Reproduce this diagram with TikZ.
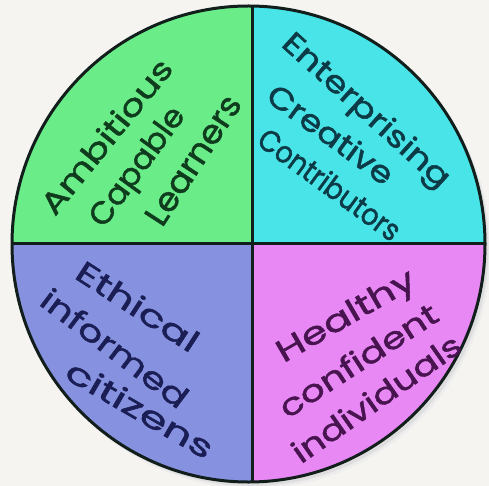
\documentclass[tikz,border=0pt]{standalone}
\usepackage{fontspec}
\setmainfont{Poppins}
\newfontfamily\hand{Poppins}[FakeBold=1.4]
\definecolor{bgc}{RGB}{245,244,240}
\definecolor{qgreen}{RGB}{106,236,136}
\definecolor{qcyan}{RGB}{72,228,232}
\definecolor{qblue}{RGB}{134,146,224}
\definecolor{qpink}{RGB}{232,136,244}
\definecolor{tgreen}{RGB}{16,60,30}
\definecolor{tcyan}{RGB}{12,58,70}
\definecolor{tblue}{RGB}{26,30,84}
\definecolor{tpink}{RGB}{72,20,80}
\definecolor{rim}{RGB}{18,30,28}
\newcommand{\hw}[2]{\resizebox{#1pt}{23pt}{#2}}
\tikzset{
  lab/.style={inner sep=0pt, font=\hand\fontsize{30}{30}\selectfont},
  rimline/.style={draw=rim, line width=3pt},
}
\begin{document}
\begin{tikzpicture}[x=1pt,y=-1pt]
\fill[bgc] (0,0) rectangle (489,486);
\useasboundingbox (0,0) rectangle (489,486);
% shadow
\fill[black!7] (253.5,250) ellipse [x radius=237, y radius=238.5];
\fill[black!13] (252,248) ellipse [x radius=236.5, y radius=238];
\begin{scope}
  \clip (248.5,244) ellipse [x radius=236.5, y radius=238];
  \fill[qgreen] (0,0) rectangle (252,243);
  \fill[qcyan] (252,0) rectangle (489,243);
  \fill[qblue] (0,243) rectangle (252,486);
  \fill[qpink] (252,243) rectangle (489,486);
\end{scope}
\coordinate (top) at (252,6.5);
\coordinate (bot) at (252,481.5);
\coordinate (lft) at (12,243);
\coordinate (rgt) at (485,243);
\draw[rimline] (top) -- (bot);
\draw[rimline] (lft) -- (rgt);
\draw[rimline] (248.5,244) ellipse [x radius=236.5, y radius=238];
% green
\node[lab, text=tgreen, rotate=51] (amb) at (106,136) {\hw{190}{Ambitious}};
\node[lab, text=tgreen, rotate=54] (cap) at (139,168) {\hw{140}{Capable}};
\node[lab, text=tgreen, rotate=57] (lea) at (193,160) {\hw{148}{Learners}};
% cyan
\node[lab, text=tcyan, rotate=-42] (ent) at (365,112) {\hw{215}{Enterprising}};
\node[lab, text=tcyan, rotate=-36] (cre) at (331,134) {\hw{148}{Creative}};
\node[lab, text=tcyan, rotate=-36] (con) at (330,184) {\hw{168}{Contributors}};
% blue
\node[lab, text=tblue, rotate=-33] (eth) at (138,306) {\hw{140}{Ethical}};
\node[lab, text=tblue, rotate=-37] (inf) at (115,348) {\hw{176}{informed}};
\node[lab, text=tblue, rotate=-30] (cit) at (140,409) {\hw{165}{citizens}};
% pink
\node[lab, text=tpink, rotate=30] (hea) at (347,318) {\hw{155}{Healthy}};
\node[lab, text=tpink, rotate=33] (cnf) at (358,360) {\hw{183}{confident}};
\node[lab, text=tpink, rotate=35] (ind) at (376,398) {\hw{199}{individuals}};
\end{tikzpicture}
\end{document}
